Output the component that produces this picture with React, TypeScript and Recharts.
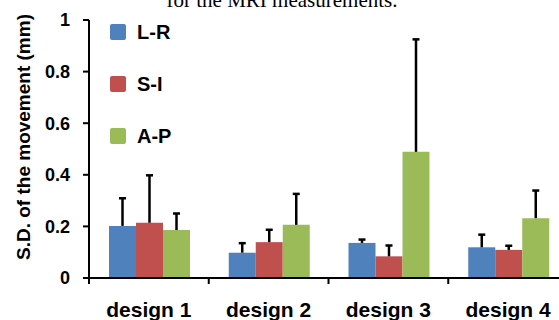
import { BarChart, Bar, XAxis, YAxis, ErrorBar } from 'recharts'

const categories = ['design 1', 'design 2', 'design 3', 'design 4']
const lrMean = [0.202, 0.098, 0.136, 0.119]
const lrSd = [0.107, 0.037, 0.013, 0.049]
const siMean = [0.214, 0.139, 0.084, 0.109]
const siSd = [0.184, 0.048, 0.042, 0.016]
const apMean = [0.186, 0.206, 0.489, 0.232]
const apSd = [0.064, 0.12, 0.436, 0.107]
const yTicks = [0, 0.2, 0.4, 0.6, 0.8, 1]

const series = [
  { key: 'lr', name: 'L-R', color: '#4F81BD' },
  { key: 'si', name: 'S-I', color: '#C0504D' },
  { key: 'ap', name: 'A-P', color: '#9BBB59' },
]

const data = categories.map((name, i) => ({
  name,
  lr: lrMean[i], lrErr: [0, lrSd[i]],
  si: siMean[i], siErr: [0, siSd[i]],
  ap: apMean[i], apErr: [0, apSd[i]],
}))

const font = 'Liberation Sans, Arial, sans-serif'

function XTick(props: any) {
  const { x, y, payload } = props
  const off = payload?.offset ?? 0
  return (
    <g>
      <line x1={x - off} y1={y - 6} x2={x - off} y2={y} stroke="#000" strokeWidth={2} />
      <text x={x} y={y + 33} textAnchor="middle" fontFamily={font} fontWeight="bold" fontSize={21} fill="#000">
        {payload.value}
      </text>
    </g>
  )
}

function LegendBox() {
  return (
    <div style={{ position: 'absolute', left: 110, top: 24, fontFamily: font, fontWeight: 'bold', fontSize: 20, color: '#000' }}>
      {series.map((s) => (
        <div key={s.key} style={{ display: 'flex', alignItems: 'center', height: 16, marginBottom: 35.8 }}>
          <div style={{ width: 16, height: 16, background: s.color, borderRadius: 2 }} />
          <span style={{ marginLeft: 11, lineHeight: '16px' }}>{s.name}</span>
        </div>
      ))}
    </div>
  )
}

function YTitle(props: any) {
  const { viewBox } = props
  const cx = 23.5
  const cy = viewBox.y + viewBox.height / 2 - 12
  return (
    <text x={cx} y={cy} transform={`rotate(-90, ${cx}, ${cy})`} textAnchor="middle" dominantBaseline="central"
      fontFamily={font} fontWeight="bold" fontSize={19} fill="#000">
      S.D. of the movement (mm)
    </text>
  )
}

export default function App() {
  return (
    <div style={{ position: 'fixed', left: 0, top: 0, width: 559, height: 320, overflow: 'hidden', background: '#fff' }}>
      <style>{`.recharts-errorBar line:nth-of-type(3){display:none}`}</style>
      <div style={{ position: 'absolute', left: 0, width: 564, top: -10.3, textAlign: 'center', fontFamily: 'Liberation Serif, Times New Roman, serif', fontSize: 21, lineHeight: '21px', color: '#000', whiteSpace: 'nowrap' }}>
        for the MRI measurements.
      </div>
      <BarChart width={568} height={320} data={data} margin={{ top: 20, right: 0, bottom: 0, left: 0 }}
        barCategoryGap={20} barGap={0}>
        <XAxis dataKey="name" height={42} axisLine={{ stroke: '#000', strokeWidth: 2 }}
          tickLine={{ stroke: 'none' }} tickSize={6} tickMargin={0} tick={<XTick />} interval={0} />
        <YAxis width={89} domain={[0, 1]} ticks={yTicks} interval={0}
          axisLine={{ stroke: '#000', strokeWidth: 2 }} tickLine={{ stroke: '#000', strokeWidth: 2 }}
          tickSize={6} tickMargin={13}
          tick={{ fill: '#000', fontFamily: font, fontWeight: 'bold', fontSize: 18 }}
          label={<YTitle />} />
        {series.map((s) => (
          <Bar key={s.key} dataKey={s.key} name={s.name} fill={s.color} isAnimationActive={false}>
            <ErrorBar dataKey={`${s.key}Err`} width={3.5} stroke="#000" strokeWidth={2.5} direction="y" />
          </Bar>
        ))}
      </BarChart>
      <LegendBox />
    </div>
  )
}
